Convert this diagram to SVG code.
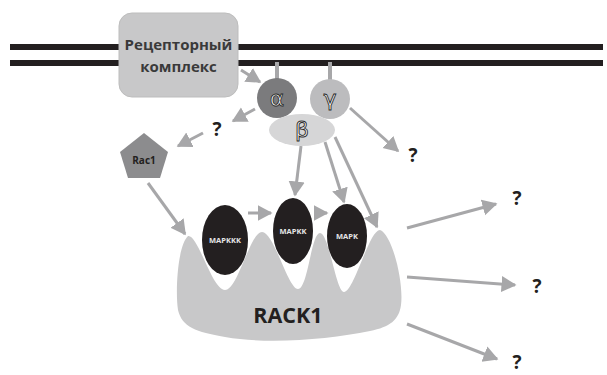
<svg xmlns="http://www.w3.org/2000/svg" width="607" height="375" viewBox="0 0 607 375">
<style>
.arr{stroke:#a7a7a9;stroke-width:3;fill:none;marker-end:url(#ah)}
.q{font-family:"Open Sans",sans-serif;font-weight:bold;font-size:19px;fill:#231f20;text-anchor:middle}
.greek{font-family:"DejaVu Sans",sans-serif;font-size:22px;fill:#fff;stroke:#2a2a2a;stroke-width:0.9;text-anchor:middle}
.mk{font-family:"Open Sans",sans-serif;font-weight:bold;font-size:7.5px;fill:#e6e6e6;text-anchor:middle}
.stalk{stroke:#a7a7a9;stroke-width:4}
</style>
<defs>
<marker id="ah" markerWidth="6" markerHeight="6" refX="4.5" refY="3" orient="auto" markerUnits="strokeWidth">
<path d="M0,0.3 L5,3 L0,5.7 Z" fill="#a7a7a9"/>
</marker>
</defs>
<g id="membrane">
<rect x="10" y="44" width="593" height="6" fill="#231f20"/>
<rect x="10" y="60" width="593" height="6" fill="#231f20"/>
</g>
<g id="receptor">
<rect x="119" y="13" width="119" height="84" rx="13" fill="#c8c8c9" stroke="#bdbdbd"/>
<text x="178.5" y="50" font-family="Open Sans, sans-serif" font-weight="bold" font-size="15" fill="#3a3a3a" text-anchor="middle">Рецепторный</text>
<text x="178.5" y="72" font-family="Open Sans, sans-serif" font-weight="bold" font-size="15" fill="#3a3a3a" text-anchor="middle">комплекс</text>
</g>
<g id="rack1">
<path d="M188,236 C198,234 212,290 225,290 C238,290 250,232 262,232 C274,232 288,289 298,289 C308,289 311,233 320,233 C329,233 336,292 344,292 C354,292 369,230 380,230 C392,234 404,282 401,305 C399,320 390,327 370,331 C330,339 270,345 225,337 C196,332 182,327 178,310 C175,290 178,245 188,236 Z" fill="#c8c8c9"/>
<text x="288" y="323" font-family="Open Sans, sans-serif" font-weight="bold" font-size="21.5" fill="#231f20" text-anchor="middle">RACK1</text>
</g>
<g id="connectors">
<line class="stalk" x1="277" y1="62" x2="277" y2="80"/>
<line class="stalk" x1="330" y1="62" x2="330" y2="81"/>
<line class="arr" x1="241" y1="70" x2="260" y2="82"/>
<line class="arr" x1="255" y1="109" x2="233" y2="121"/>
<line class="arr" x1="203" y1="133" x2="178" y2="146"/>
<line class="arr" x1="148" y1="183" x2="185" y2="234"/>
<line class="arr" x1="350" y1="108" x2="398" y2="151"/>
<line class="arr" x1="301" y1="146" x2="295" y2="195"/>
<line class="arr" x1="325" y1="142" x2="344" y2="202"/>
<line class="arr" x1="335" y1="137" x2="377" y2="227"/>
<line class="arr" x1="248" y1="213" x2="271" y2="213"/>
<line class="arr" x1="315" y1="213" x2="327" y2="213"/>
<line class="arr" x1="407" y1="228" x2="496" y2="204"/>
<line class="arr" x1="407" y1="277" x2="515" y2="285"/>
<line class="arr" x1="407" y1="324" x2="497" y2="359"/>
</g>
<g id="alpha">
<circle cx="277" cy="98" r="20" fill="#7b7b7d"/>
<text class="greek" x="277" y="106">α</text>
</g>
<g id="gamma">
<circle cx="330" cy="99" r="20" fill="#bcbcbe"/>
<text class="greek" x="330" y="106">γ</text>
</g>
<g id="beta">
<ellipse cx="302" cy="130" rx="33" ry="16" fill="#d6d6d7"/>
<text class="greek" x="302" y="137">β</text>
</g>
<g id="rac1">
<polygon points="144,133 168,152 160,178 128,178 120,152" fill="#8c8c8e"/>
<text x="144" y="164" font-family="Open Sans, sans-serif" font-weight="bold" font-size="10" fill="#231f20" text-anchor="middle">Rac1</text>
</g>
<g id="mapkkk">
<ellipse cx="225" cy="240" rx="23" ry="35" fill="#231f20"/>
<text class="mk" x="225" y="243">MAPKKK</text>
</g>
<g id="mapkk">
<ellipse cx="293" cy="231" rx="20" ry="33" fill="#231f20"/>
<text class="mk" x="293" y="234">MAPKK</text>
</g>
<g id="mapk">
<ellipse cx="347" cy="236" rx="20" ry="32" fill="#231f20"/>
<text class="mk" x="347" y="239">MAPK</text>
</g>
<g id="questions">
<text class="q" x="217" y="136">?</text>
<text class="q" x="413" y="162">?</text>
<text class="q" x="517" y="205">?</text>
<text class="q" x="537" y="293">?</text>
<text class="q" x="517" y="369">?</text>
</g>
</svg>
